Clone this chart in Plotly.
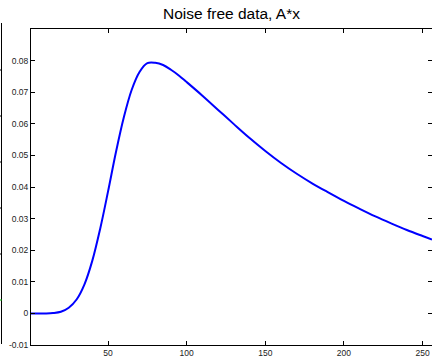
import plotly.graph_objects as go

# Noise-free right-hand side b = A*x sampled along the index axis
sample_index = [1, 5, 10, 15, 20, 25, 30, 35, 40, 45, 50, 55, 60, 65, 70, 75, 80,
                85, 90, 95, 100, 110, 120, 130, 140, 150, 160, 170, 180, 190, 200,
                210, 220, 230, 240, 250, 256]
data_values = [0.0, 0.0, 0.0, 0.0001, 0.0005, 0.0018, 0.0044, 0.0092, 0.0167,
               0.0268, 0.0386, 0.051, 0.062, 0.0707, 0.0764, 0.0792, 0.0793,
               0.0786, 0.0771, 0.0753, 0.0732, 0.0689, 0.0644, 0.0599, 0.0555,
               0.0514, 0.0476, 0.0442, 0.0411, 0.0383, 0.0356, 0.0331, 0.0307,
               0.0285, 0.0264, 0.0245, 0.0234]

x_ticks = [50, 100, 150, 200, 250]
y_ticks = [-0.01, 0, 0.01, 0.02, 0.03, 0.04, 0.05, 0.06, 0.07, 0.08]
y_tick_labels = ["-0.01", "0", "0.01", "0.02", "0.03", "0.04", "0.05", "0.06", "0.07", "0.08"]
x_range = [1, 256]
y_range = [-0.01, 0.09]

W, H = 432, 357
ML, MR, MT, MB = 31, 0, 29, 12
PW, PH = W - ML - MR, H - MT - MB
FONT = "Liberation Sans, Arial, sans-serif"


def px_x(p):
    return (p - ML) / PW


def px_y(p):
    return (H - MB - p) / PH


fig = go.Figure()
fig.add_trace(go.Scatter(
    x=sample_index, y=data_values, mode="lines",
    line=dict(color="#0000ff", width=2, shape="spline", smoothing=1),
    hoverinfo="skip", showlegend=False,
))
# Same curve on the mirrored axes so the top/right tick sets are drawn
fig.add_trace(go.Scatter(
    x=sample_index, y=data_values, mode="lines", xaxis="x2", yaxis="y2",
    line=dict(color="rgba(0,0,0,0)", width=0),
    hoverinfo="skip", showlegend=False,
))

tick_style = dict(ticks="inside", ticklen=4, tickwidth=1, tickcolor="black",
                  showgrid=False, zeroline=False, automargin=False)
label_font = dict(family=FONT, size=8.5, color="#222")

fig.update_layout(
    xaxis=dict(range=x_range, tickvals=x_ticks, showline=True, linecolor="black",
               linewidth=1, tickfont=label_font, **tick_style),
    yaxis=dict(range=y_range, tickvals=y_ticks, ticktext=y_tick_labels, showline=True,
               linecolor="black", linewidth=1, tickfont=label_font, **tick_style),
    xaxis2=dict(range=x_range, tickvals=x_ticks, overlaying="x", side="top",
                anchor="y2", showline=True, linecolor="black", linewidth=1,
                showticklabels=False, **tick_style),
    yaxis2=dict(range=y_range, tickvals=y_ticks, overlaying="y", side="right",
                anchor="x2", showline=False, showticklabels=False, **tick_style),
)

# Edge of the neighbouring panel on the left
shapes = [dict(type="line", xref="paper", yref="paper",
               x0=px_x(1.5), x1=px_x(1.5), y0=px_y(23), y1=px_y(344),
               line=dict(color="black", width=1))]
for ty, col in [(70, "black"), (116, "black"), (162, "black"), (208, "black"),
                (254, "black"), (300, "#00b000")]:
    shapes.append(dict(type="line", xref="paper", yref="paper",
                       x0=px_x(0), x1=px_x(2), y0=px_y(ty), y1=px_y(ty),
                       line=dict(color=col, width=1)))

fig.update_layout(
    width=W, height=H,
    margin=dict(l=ML, r=MR, t=MT, b=MB, pad=0),
    paper_bgcolor="white", plot_bgcolor="white",
    title=dict(text="Noise free data, A*x", x=0.5, xref="paper", xanchor="center",
               y=1 - 14 / H, yref="container", yanchor="middle",
               font=dict(family=FONT, size=15.5, color="black")),
    shapes=shapes,
)

fig.write_html("out.html", config={"displayModeBar": False})
